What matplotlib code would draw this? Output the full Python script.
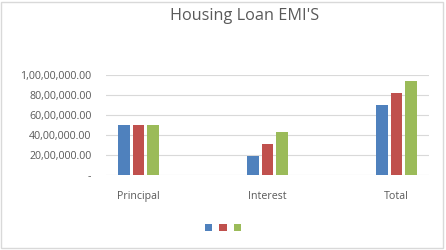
import matplotlib
matplotlib.use('Agg')
import matplotlib.pyplot as plt
import numpy as np
from matplotlib.ticker import FuncFormatter
from matplotlib.patches import Rectangle

# ---------- DATA ----------
categories = ["Principal", "Interest", "Total"]
series_a = [5000000, 1930000, 6930000]
series_b = [5000000, 3120000, 8120000]
series_c = [5000000, 4320000, 9320000]
yticks = [0, 2000000, 4000000, 6000000, 8000000, 10000000]

colors = ["#4F81BD", "#C0504D", "#9BBB59"]
text_color = "#595959"
grid_color = "#D9D9D9"


def indian_fmt(v, pos=None):
    if v == 0:
        return "-"
    s = str(int(round(v)))
    last3 = s[-3:]
    rest = s[:-3]
    groups = []
    while len(rest) > 2:
        groups.insert(0, rest[-2:])
        rest = rest[:-2]
    if rest:
        groups.insert(0, rest)
    return ",".join(groups + [last3]) + ".00"


plt.rcParams['font.family'] = ['Open Sans', 'DejaVu Sans']

# ---------- FIGURE ----------
fig = plt.figure(figsize=(4.46, 2.5), dpi=100)
ax = fig.add_axes([0.2377, 0.30, 0.7242, 0.402])

x = np.arange(len(categories))
w = 0.09
step = 0.114
handles = []
for i, vals in enumerate([series_a, series_b, series_c]):
    b = ax.bar(x + (i - 1) * step, vals, width=w, color=colors[i], zorder=3)
    handles.append(b)

ax.set_xlim(-0.252, 2.252)
ax.set_ylim(0, 10000000)
ax.set_yticks(yticks)
ax.yaxis.set_major_formatter(FuncFormatter(indian_fmt))
ax.set_xticks(x)
ax.set_xticklabels(categories)
ax.grid(axis="y", color=grid_color, linewidth=0.8, zorder=0)
for s in ax.spines.values():
    s.set_visible(False)
ax.tick_params(axis="y", length=0, pad=10.5, labelsize=7.7, labelcolor=text_color)
ax.tick_params(axis="x", length=0, pad=11.5, labelsize=7.7, labelcolor=text_color)

fig.text(0.549, 0.938, "Housing Loan EMI'S", ha="center", va="center",
         fontsize=11.7, color=text_color)

fig.legend(handles, ["", "", ""], loc="center", bbox_to_anchor=(0.5, 0.086),
           ncol=3, frameon=False, handlelength=0.7, handleheight=0.7,
           handletextpad=0, columnspacing=0.75, fontsize=7.3)

# chart border
fig.patches.append(Rectangle((0.003, 0.008), 0.991, 0.986, transform=fig.transFigure,
                             fill=False, edgecolor=grid_color, linewidth=1))

fig.savefig("out.png", dpi=100)
